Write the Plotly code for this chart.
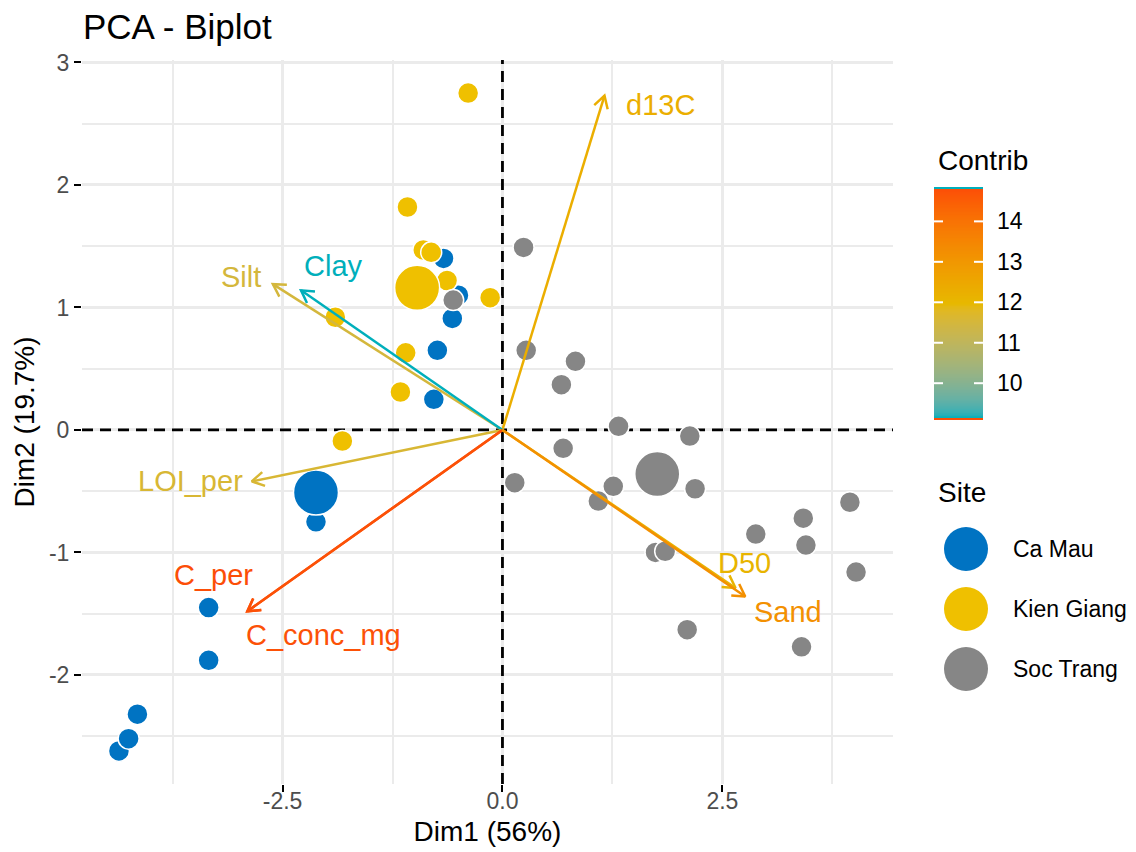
import math
import plotly.graph_objects as go

# ---------------- data ----------------
site_names = ["Ca Mau", "Kien Giang", "Soc Trang"]
site_colors = ["#0073C2", "#EFC000", "#868686"]

# individual scores (Dim1, Dim2)
camau_x = [-4.36, -4.25, -4.15, -3.34, -3.34, -2.12, -0.78, -0.74, -0.57, -0.67, -0.50]
camau_y = [-2.62, -2.52, -2.32, -1.45, -1.88, -0.75, 0.25, 0.65, 0.91, 1.40, 1.10]

kien_x = [-0.39, -1.08, -0.90, -0.81, -0.63, -0.14, -1.90, -1.10, -1.16, -1.82]
kien_y = [2.75, 1.82, 1.47, 1.45, 1.22, 1.08, 0.92, 0.63, 0.31, -0.09]

soc_x = [0.24, 0.27, 0.83, 0.67, 1.32, 2.13, 0.69, 0.14, 1.26, 2.19, 1.09,
         1.74, 1.85, 2.10, 2.88, 3.42, 3.45, 3.95, 4.02, 3.40, -0.56]
soc_y = [1.49, 0.65, 0.56, 0.37, 0.03, -0.05, -0.15, -0.43, -0.46, -0.48, -0.58,
         -1.00, -0.99, -1.63, -0.85, -0.72, -0.94, -0.59, -1.16, -1.77, 1.06]

# group mean points
mean_x = [-2.12, -0.97, 1.76]
mean_y = [-0.51, 1.16, -0.36]

# variables (arrow tips) and their contributions
var_names = ["d13C", "Silt", "Clay", "LOI_per", "C_per", "C_conc_mg", "D50", "Sand"]
var_x = [1.16, -2.61, -2.29, -2.85, -2.90, -2.90, 2.65, 2.76]
var_y = [2.73, 1.19, 1.14, -0.42, -1.48, -1.48, -1.29, -1.36]
var_contrib = [12.3, 11.5, 9.14, 11.6, 14.80, 14.75, 12.1, 13.2]

# variable label anchor points
lab_x = [1.80, -2.97, -1.92, -3.55, -3.28, -2.03, 2.75, 3.25]
lab_y = [2.65, 1.25, 1.34, -0.42, -1.18, -1.67, -1.09, -1.49]

contrib_ticks = [10, 11, 12, 13, 14]

# ---------------- layout constants ----------------
W, H = 1136, 852
M_L, M_R, M_T, M_B = 82, 0, 60, 68
AREA_W, AREA_H = W - M_L - M_R, H - M_T - M_B
PANEL_RIGHT = 893            # right edge of the scatter panel (px)
X_RANGE = [-4.78, 4.44]
Y_RANGE = [-2.89, 3.02]
FONT = "Liberation Sans, Arial, Helvetica, sans-serif"
GRID = "#EBEBEB"
GRAD = ["#00AFBB", "#E7B800", "#FC4E07"]

# colour bar box (px)
CB_L, CB_R, CB_T, CB_B = 934, 983, 189, 418


def paper_x(px):
    return (px - M_L) / AREA_W


def paper_y(py):
    return (H - M_B - py) / AREA_H


# ---- CIELAB colour ramp (gradient interpolated in Lab space) ----
def _hex_to_lab(h):
    rgb = [int(h[i:i + 2], 16) / 255 for i in (1, 3, 5)]
    lin = [c / 12.92 if c <= 0.04045 else ((c + 0.055) / 1.055) ** 2.4 for c in rgb]
    r, g, b = lin
    X = (0.4124564 * r + 0.3575761 * g + 0.1804375 * b) / 0.95047
    Y = (0.2126729 * r + 0.7151522 * g + 0.0721750 * b)
    Z = (0.0193339 * r + 0.1191920 * g + 0.9503041 * b) / 1.08883
    d = 6 / 29

    def f(t):
        return t ** (1 / 3) if t > d ** 3 else t / (3 * d * d) + 4 / 29
    return (116 * f(Y) - 16, 500 * (f(X) - f(Y)), 200 * (f(Y) - f(Z)))


def _lab_to_hex(L, a, b):
    d = 6 / 29
    fy = (L + 16) / 116
    fx, fz = fy + a / 500, fy - b / 200

    def finv(t):
        return t ** 3 if t > d else 3 * d * d * (t - 4 / 29)
    X, Y, Z = finv(fx) * 0.95047, finv(fy), finv(fz) * 1.08883
    r = 3.2404542 * X - 1.5371385 * Y - 0.4985314 * Z
    g = -0.9692660 * X + 1.8760108 * Y + 0.0415560 * Z
    bb = 0.0556434 * X - 0.2040259 * Y + 1.0572252 * Z
    out = []
    for c in (r, g, bb):
        c = 12.92 * c if c <= 0.0031308 else 1.055 * max(c, 0) ** (1 / 2.4) - 0.055
        out.append(min(255, max(0, round(c * 255))))
    return "#%02X%02X%02X" % tuple(out)


_labs = [_hex_to_lab(h) for h in GRAD]


def ramp(t):
    t = min(1.0, max(0.0, t))
    seg = min(int(t * (len(_labs) - 1)), len(_labs) - 2)
    u = t * (len(_labs) - 1) - seg
    p, q = _labs[seg], _labs[seg + 1]
    return _lab_to_hex(*[p[k] + (q[k] - p[k]) * u for k in range(3)])


N_STOPS = 60
CSCALE = [[i / N_STOPS, ramp(i / N_STOPS)] for i in range(N_STOPS + 1)]

cmin, cmax = min(var_contrib), max(var_contrib)
var_colors = [ramp((c - cmin) / (cmax - cmin)) for c in var_contrib]

fig = go.Figure()

# dashed reference axes through the origin
dash_line = dict(color="black", width=2.8, dash="11px,7px")
fig.add_trace(go.Scatter(x=X_RANGE, y=[0, 0], mode="lines", hoverinfo="skip",
                         showlegend=False, line=dash_line))
fig.add_trace(go.Scatter(x=[0, 0], y=Y_RANGE, mode="lines", hoverinfo="skip",
                         showlegend=False, line=dash_line))

# individuals by site
for name, color, gx, gy in zip(site_names, site_colors,
                               [camau_x, kien_x, soc_x], [camau_y, kien_y, soc_y]):
    fig.add_trace(go.Scatter(x=gx, y=gy, mode="markers", name=name, showlegend=False,
                             marker=dict(size=21, color=color,
                                         line=dict(color="white", width=1.5))))

# site means
fig.add_trace(go.Scatter(x=mean_x, y=mean_y, mode="markers", showlegend=False,
                         marker=dict(size=45, color=site_colors,
                                     line=dict(color="white", width=1.5))))

# variable arrows with open heads
panel_w = PANEL_RIGHT - M_L
sx = panel_w / (X_RANGE[1] - X_RANGE[0])
sy = AREA_H / (Y_RANGE[1] - Y_RANGE[0])
head_len, head_ang = 14.0, math.radians(30)
for name, x, y, col in zip(var_names, var_x, var_y, var_colors):
    ang = math.atan2(y * sy, x * sx)
    arms = []
    for s in (1, -1):
        a = ang + math.pi + s * head_ang
        arms.append((x + head_len * math.cos(a) / sx, y + head_len * math.sin(a) / sy))
    fig.add_trace(go.Scatter(
        x=[0, x, None, arms[0][0], x, arms[1][0]],
        y=[0, y, None, arms[0][1], y, arms[1][1]],
        mode="lines", hoverinfo="skip", showlegend=False,
        line=dict(color=col, width=2.5)))

for name, lx, ly, col in zip(var_names, lab_x, lab_y, var_colors):
    fig.add_annotation(x=lx, y=ly, xref="x", yref="y", text=name, showarrow=False,
                       font=dict(family=FONT, size=29, color=col))

# contribution colour bar drawn as a one-column heatmap
cb_vals = [cmin + (cmax - cmin) * i / 300 for i in range(301)]
fig.add_trace(go.Heatmap(
    x=[0], y=cb_vals, z=[[v] for v in cb_vals], xaxis="x2", yaxis="y2",
    colorscale=CSCALE, zmin=cmin, zmax=cmax, showscale=False, hoverinfo="skip"))

for v in contrib_ticks:
    for x0, x1 in ((0, 9 / 49), (40 / 49, 1)):
        fig.add_shape(type="line", xref="x2 domain", yref="y2", x0=x0, x1=x1, y0=v, y1=v,
                      line=dict(color="white", width=2), layer="above")
# thin end caps of the bar
fig.add_shape(type="rect", xref="x2 domain", yref="paper", x0=0, x1=1,
              y0=paper_y(CB_T), y1=paper_y(CB_T - 2), fillcolor=GRAD[0], line=dict(width=0))
fig.add_shape(type="rect", xref="x2 domain", yref="paper", x0=0, x1=1,
              y0=paper_y(CB_B + 2), y1=paper_y(CB_B), fillcolor=GRAD[2], line=dict(width=0))

fig.add_annotation(x=paper_x(936), y=paper_y(161), xref="paper", yref="paper",
                   text="Contrib", showarrow=False, xanchor="left", yanchor="middle",
                   font=dict(family=FONT, size=28, color="black"))

# site legend
fig.add_annotation(x=paper_x(936), y=paper_y(492), xref="paper", yref="paper",
                   text="Site", showarrow=False, xanchor="left", yanchor="middle",
                   font=dict(family=FONT, size=28, color="black"))
for i, (name, color) in enumerate(zip(site_names, site_colors)):
    cy = 549 + 60 * i
    fig.add_shape(type="circle", xref="paper", yref="paper",
                  xsizemode="pixel", ysizemode="pixel",
                  xanchor=paper_x(966), yanchor=paper_y(cy),
                  x0=-22, x1=22, y0=-22, y1=22,
                  fillcolor=color, line=dict(width=0), layer="above")
    fig.add_annotation(x=paper_x(1011), y=paper_y(cy), xref="paper", yref="paper",
                       text=name, showarrow=False, xanchor="left", yanchor="middle",
                       font=dict(family=FONT, size=23, color="black"))

axis_common = dict(
    showgrid=True, gridcolor=GRID, gridwidth=2.6, zeroline=False, showline=False,
    ticks="outside", ticklen=7, tickwidth=2, tickcolor="black",
    tickfont=dict(family=FONT, size=23, color="#4D4D4D"),
    automargin=False,
)

fig.update_layout(
    xaxis=dict(
        domain=[0, panel_w / AREA_W], anchor="y",
        range=X_RANGE, tickvals=[-2.5, 0, 2.5], ticktext=["-2.5", "0.0", "2.5"],
        ticklabelstandoff=-11,
        minor=dict(tick0=0, dtick=1.25, showgrid=True, gridcolor=GRID, gridwidth=2, ticks=""),
        title=dict(text="Dim1 (56%)", standoff=8,
                   font=dict(family=FONT, size=28, color="black")),
        **axis_common),
    yaxis=dict(
        domain=[0, 1], anchor="x",
        range=Y_RANGE, tickvals=[-2, -1, 0, 1, 2, 3], ticktext=["-2", "-1", "0", "1", "2", "3"],
        minor=dict(tick0=0, dtick=0.5, showgrid=True, gridcolor=GRID, gridwidth=2, ticks=""),
        title=dict(text="Dim2 (19.7%)", standoff=6,
                   font=dict(family=FONT, size=28, color="black")),
        **axis_common),
    xaxis2=dict(domain=[paper_x(CB_L), paper_x(CB_R)], anchor="y2", range=[-0.5, 0.5],
                showgrid=False, zeroline=False, showticklabels=False, ticks="",
                fixedrange=True),
    yaxis2=dict(domain=[paper_y(CB_B), paper_y(CB_T)], anchor="x2", side="right",
                range=[cmin, cmax], tickvals=contrib_ticks,
                ticktext=[str(v) for v in contrib_ticks],
                showgrid=False, zeroline=False, ticks="", ticklabelstandoff=13,
                tickfont=dict(family=FONT, size=23, color="black"), fixedrange=True),
    width=W, height=H,
    margin=dict(l=M_L, r=M_R, t=M_T, b=M_B, autoexpand=False),
    paper_bgcolor="white", plot_bgcolor="white",
    font=dict(family=FONT, color="black"),
    title=dict(text="PCA - Biplot", x=83 / W, xanchor="left", xref="container",
               y=1 - 27 / H, yanchor="middle", yref="container",
               font=dict(family=FONT, size=35, color="black")),
    showlegend=False,
)

fig.write_html("out.html")
